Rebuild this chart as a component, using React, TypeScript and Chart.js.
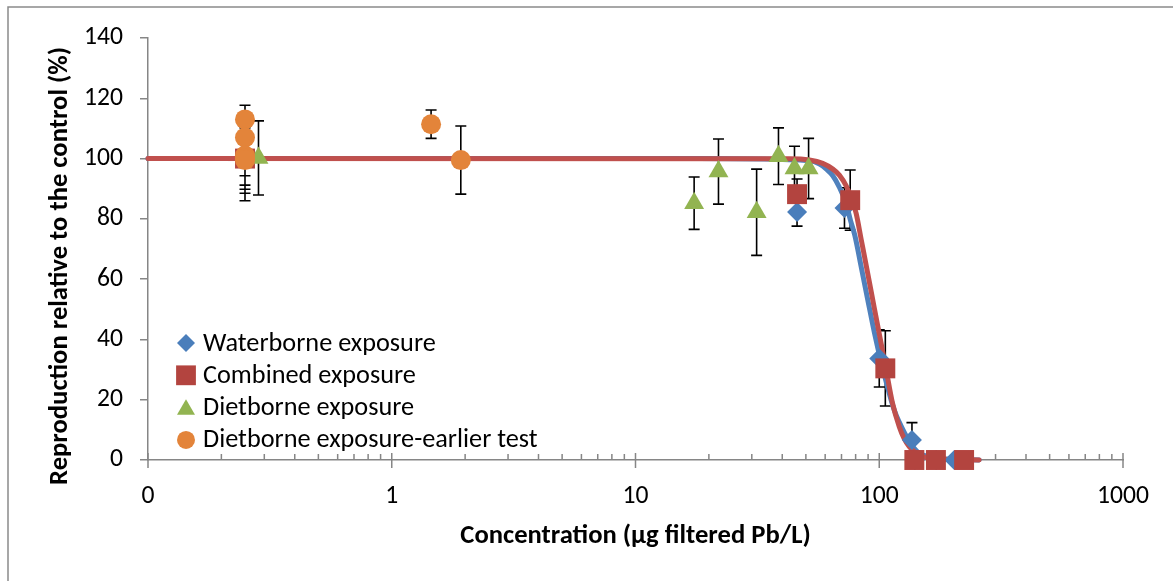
import React, { useEffect, useRef } from 'react';
import { Chart, registerables, PointElement } from 'chart.js';

Chart.register(...registerables);

// ---------- axes ----------
const X_MIN = 0.1;
const X_MAX = 1000;
const X_MAJOR_TICKS = [0.1, 1, 10, 100, 1000];
const X_TICK_LABELS = ['0', '1', '10', '100', '1000'];
const X_MINOR_TICKS = [
  0.2, 0.3, 0.4, 0.5, 0.6, 0.7, 0.8, 0.9,
  2, 3, 4, 5, 6, 7, 8, 9,
  20, 30, 40, 50, 60, 70, 80, 90,
  200, 300, 400, 500, 600, 700, 800, 900,
];
const Y_MIN = 0;
const Y_MAX = 140;
const Y_STEP = 20;

const X_TITLE = 'Concentration (µg filtered Pb/L)';
const Y_TITLE = 'Reproduction relative to the control (%)';

// ---------- series ----------
const WATER_LABEL = 'Waterborne exposure';
const WATER_X = [0.25, 46, 72, 100, 136.2, 140, 171, 203];
const WATER_Y = [100, 82.3, 83.6, 33.7, 6.6, 0, 0, 0];
const WATER_ERR = [14, 4.7, 6.7, 9.5, 5.8, 0, 0, 0];

const COMB_LABEL = 'Combined exposure';
const COMB_X = [0.25, 46, 76, 105.9, 139.3, 170.8, 222.9];
const COMB_Y = [100, 88.2, 86.2, 30.4, 0, 0, 0];
const COMB_ERR = [11.5, 5, 10, 12.5, 0, 0, 0];

const DIET_LABEL = 'Dietborne exposure';
const DIET_X = [0.284, 17.4, 21.9, 31.4, 38.6, 44.9, 51.3];
const DIET_Y = [100.2, 85.2, 95.7, 82.2, 100.8, 96.7, 96.7];
const DIET_ERR = [12.3, 8.7, 10.8, 14.3, 9.4, 7.4, 10];

const EARLY_LABEL = 'Dietborne exposure-earlier test';
const EARLY_X = [0.25, 0.25, 0.25, 0.25, 0.25, 1.45, 1.92];
const EARLY_Y = [113, 107, 101, 100, 99.5, 111.4, 99.5];
const EARLY_ERR = [4.7, 5, 6.7, 10.2, 8.3, 4.7, 11.3];

// fitted curves
const WATER_FIT_X = [0.1, 18.3, 51.7, 56.9, 60.7, 64.5, 68.6, 73.1, 76.2, 79.4, 84.5, 89.7, 95.5, 101.7, 107.9, 115.3, 120.9, 132.8, 143.2, 157.4, 184.7, 256.9];
const WATER_FIT_Y = [100, 100, 99.3, 98.2, 96.5, 94.3, 90.5, 85.1, 79.5, 74.5, 63.7, 53.2, 42.3, 32.6, 24.5, 16.5, 12.5, 6.2, 2.8, 1.2, 0.3, 0];

const COMB_FIT_X = [0.1, 42.9, 51.7, 58.6, 64.5, 68.6, 73.1, 76.7, 80.4, 84.3, 89.7, 95.5, 100.1, 106.6, 113.4, 120.9, 126.7, 132.8, 141.5, 150.5, 176.2, 256.9];
const COMB_FIT_Y = [100, 99.9, 99.5, 98.4, 96.5, 94.5, 91, 87, 81.8, 73.2, 61.9, 50.3, 41.7, 30.2, 18.8, 11.0, 7, 4.4, 2.3, 1.1, 0.3, 0];

// ---------- styles ----------
const FONT = 'Carlito, Calibri, Lato, sans-serif';
const AXIS_COLOR = '#868686';
const BLUE = '#4A7EBB';
const BLUE_LINE = '#4F81BD';
const RED = '#B3443F';
const RED_LINE = '#C0504D';
const GREEN = '#92B451';
const ORANGE = '#E3843A';

function pts(xs: number[], ys: number[]) {
  return xs.map((x, i) => ({ x, y: ys[i] }));
}

function fitSize(text: string, target: number, weight: string) {
  const c = document.createElement('canvas').getContext('2d')!;
  c.font = `${weight} 100px ${FONT}`;
  const w = c.measureText(text).width;
  return (100 * target) / w;
}

export default function App() {
  const ref = useRef<HTMLCanvasElement | null>(null);

  useEffect(() => {
    const canvas = ref.current!;
    const tickSize = fitSize('1000', 52, 'normal');
    const legendSize = fitSize(WATER_LABEL, 233, 'normal');
    const titleSize = fitSize(Y_TITLE, 438, 'bold');

    const errorSets = [
      { x: WATER_X, y: WATER_Y, e: WATER_ERR },
      { x: COMB_X, y: COMB_Y, e: COMB_ERR },
      { x: DIET_X, y: DIET_Y, e: DIET_ERR },
      { x: EARLY_X, y: EARLY_Y, e: EARLY_ERR },
    ];

    const framePlugin = {
      id: 'frame',
      beforeDraw(chart: any) {
        const ctx = chart.ctx;
        ctx.save();
        ctx.strokeStyle = '#8a8a8a';
        ctx.lineWidth = 1.5;
        ctx.beginPath();
        ctx.moveTo(8, chart.height);
        ctx.lineTo(8, 7);
        ctx.lineTo(chart.width, 7);
        ctx.stroke();
        ctx.restore();
      },
    };

    const underPlugin = {
      id: 'under',
      beforeDatasetsDraw(chart: any) {
        const ctx = chart.ctx;
        const xs = chart.scales.x;
        const ys = chart.scales.y;
        const y0 = ys.getPixelForValue(0);
        ctx.save();
        // x tick marks
        ctx.strokeStyle = AXIS_COLOR;
        ctx.lineWidth = 1.5;
        ctx.beginPath();
        X_MAJOR_TICKS.forEach((v) => {
          const px = xs.getPixelForValue(v);
          ctx.moveTo(px, y0 - 7);
          ctx.lineTo(px, y0 + 8);
        });
        X_MINOR_TICKS.forEach((v) => {
          const px = xs.getPixelForValue(v);
          ctx.moveTo(px, y0 - 6);
          ctx.lineTo(px, y0);
        });
        ctx.stroke();
        // error bars
        ctx.strokeStyle = '#000';
        ctx.lineWidth = 1.6;
        ctx.beginPath();
        errorSets.forEach((s) => {
          s.x.forEach((xv, i) => {
            const e = s.e[i];
            if (!e) return;
            const px = xs.getPixelForValue(xv);
            const top = ys.getPixelForValue(s.y[i] + e);
            const bot = ys.getPixelForValue(s.y[i] - e);
            ctx.moveTo(px, top);
            ctx.lineTo(px, bot);
            ctx.moveTo(px - 5.5, top);
            ctx.lineTo(px + 5.5, top);
            ctx.moveTo(px - 5.5, bot);
            ctx.lineTo(px + 5.5, bot);
          });
        });
        ctx.stroke();
        ctx.restore();
      },
    };

    const legendItems = [
      { label: WATER_LABEL, style: 'rectRot', radius: 9, color: BLUE },
      { label: COMB_LABEL, style: 'rect', radius: 14, color: RED },
      { label: DIET_LABEL, style: 'triangle', radius: 10.4, color: GREEN },
      { label: EARLY_LABEL, style: 'circle', radius: 9, color: ORANGE },
    ];

    const overPlugin = {
      id: 'over',
      afterDraw(chart: any) {
        const ctx = chart.ctx;
        const area = chart.chartArea;
        ctx.save();
        // legend
        ctx.font = `${legendSize}px ${FONT}`;
        ctx.fillStyle = '#000';
        ctx.textAlign = 'left';
        ctx.textBaseline = 'middle';
        legendItems.forEach((it, i) => {
          const cy = 343 + i * 32.3;
          const pe: any = new PointElement({
            x: 186,
            y: it.style === 'triangle' ? cy + 2 : cy,
            options: {
              pointStyle: it.style,
              radius: it.radius,
              rotation: 0,
              backgroundColor: it.color,
              borderColor: it.color,
              borderWidth: 0,
            },
          } as any);
          pe.draw(ctx);
          ctx.fillStyle = '#000';
          ctx.fillText(it.label, 203, cy + 1);
        });
        // axis titles
        ctx.font = `bold ${titleSize}px ${FONT}`;
        ctx.textAlign = 'center';
        ctx.textBaseline = 'middle';
        ctx.fillText(X_TITLE, (area.left + area.right) / 2, 536);
        ctx.translate(60, 266);
        ctx.rotate(-Math.PI / 2);
        ctx.fillText(Y_TITLE, 0, 0);
        ctx.restore();
      },
    };

    const chart = new Chart(canvas, {
      type: 'scatter',
      data: {
        datasets: [
          {
            label: EARLY_LABEL,
            data: pts(EARLY_X, EARLY_Y),
            pointStyle: 'circle',
            pointRadius: 10,
            pointHoverRadius: 10,
            backgroundColor: ORANGE,
            borderColor: ORANGE,
            borderWidth: 0,
            order: 1,
            clip: false,
          },
          {
            label: DIET_LABEL,
            data: pts(DIET_X, DIET_Y),
            pointStyle: 'triangle',
            pointRadius: 11.5,
            pointHoverRadius: 11.5,
            backgroundColor: GREEN,
            borderColor: GREEN,
            borderWidth: 0,
            order: 2,
            clip: false,
          },
          {
            label: COMB_LABEL,
            data: pts(COMB_X, COMB_Y),
            pointStyle: 'rect',
            pointRadius: 14.1,
            pointHoverRadius: 14.1,
            backgroundColor: RED,
            borderColor: RED,
            borderWidth: 0,
            order: 3,
            clip: false,
          },
          {
            label: WATER_LABEL,
            data: pts(WATER_X, WATER_Y),
            pointStyle: 'rectRot',
            pointRadius: 10,
            pointHoverRadius: 10,
            backgroundColor: BLUE,
            borderColor: BLUE,
            borderWidth: 0,
            order: 4,
            clip: false,
          },
          {
            label: 'Combined fit',
            data: pts(COMB_FIT_X, COMB_FIT_Y),
            showLine: true,
            pointRadius: 0,
            pointHoverRadius: 0,
            borderColor: RED_LINE,
            backgroundColor: RED_LINE,
            borderWidth: 5,
            borderCapStyle: 'round',
            borderJoinStyle: 'round',
            cubicInterpolationMode: 'monotone',
            order: 5,
            clip: false,
          },
          {
            label: 'Waterborne fit',
            data: pts(WATER_FIT_X, WATER_FIT_Y),
            showLine: true,
            pointRadius: 0,
            pointHoverRadius: 0,
            borderColor: BLUE_LINE,
            backgroundColor: BLUE_LINE,
            borderWidth: 5,
            borderCapStyle: 'round',
            borderJoinStyle: 'round',
            cubicInterpolationMode: 'monotone',
            order: 6,
            clip: false,
          },
        ] as any,
      },
      options: {
        responsive: false,
        animation: false,
        events: [],
        layout: { padding: { top: 38, right: 50, left: 0, bottom: 0 } },
        plugins: {
          legend: { display: false },
          tooltip: { enabled: false },
          title: { display: false },
        },
        scales: {
          x: {
            type: 'logarithmic',
            min: X_MIN,
            max: X_MAX,
            afterBuildTicks: (scale: any) => {
              scale.ticks = X_MAJOR_TICKS.map((v) => ({ value: v, major: true }));
            },
            afterFit: (scale: any) => {
              scale.height = 121;
            },
            grid: { display: false, drawTicks: false, drawOnChartArea: false },
            border: { display: true, color: AXIS_COLOR, width: 1.5 },
            ticks: {
              autoSkip: false,
              maxRotation: 0,
              padding: 21,
              color: '#000',
              font: { family: FONT, size: tickSize },
              callback: (value: any) => {
                const i = X_MAJOR_TICKS.indexOf(Number(value));
                return i >= 0 ? X_TICK_LABELS[i] : '';
              },
            },
          },
          y: {
            type: 'linear',
            min: Y_MIN,
            max: Y_MAX,
            afterFit: (scale: any) => {
              scale.width = 148;
            },
            grid: {
              display: true,
              drawOnChartArea: false,
              drawTicks: true,
              tickLength: 8,
              color: AXIS_COLOR,
              lineWidth: 1.5,
            },
            border: { display: true, color: AXIS_COLOR, width: 1.5 },
            ticks: {
              stepSize: Y_STEP,
              padding: 17,
              color: '#000',
              font: { family: FONT, size: tickSize },
            },
          },
        },
      } as any,
      plugins: [framePlugin, underPlugin, overPlugin],
    });

    return () => chart.destroy();
  }, []);

  return (
    <div style={{ position: 'absolute', left: 0, top: 0, width: 1173, height: 581, background: '#fff' }}>
      <canvas ref={ref} width={1173} height={581} style={{ width: 1173, height: 581, display: 'block' }} />
    </div>
  );
}
